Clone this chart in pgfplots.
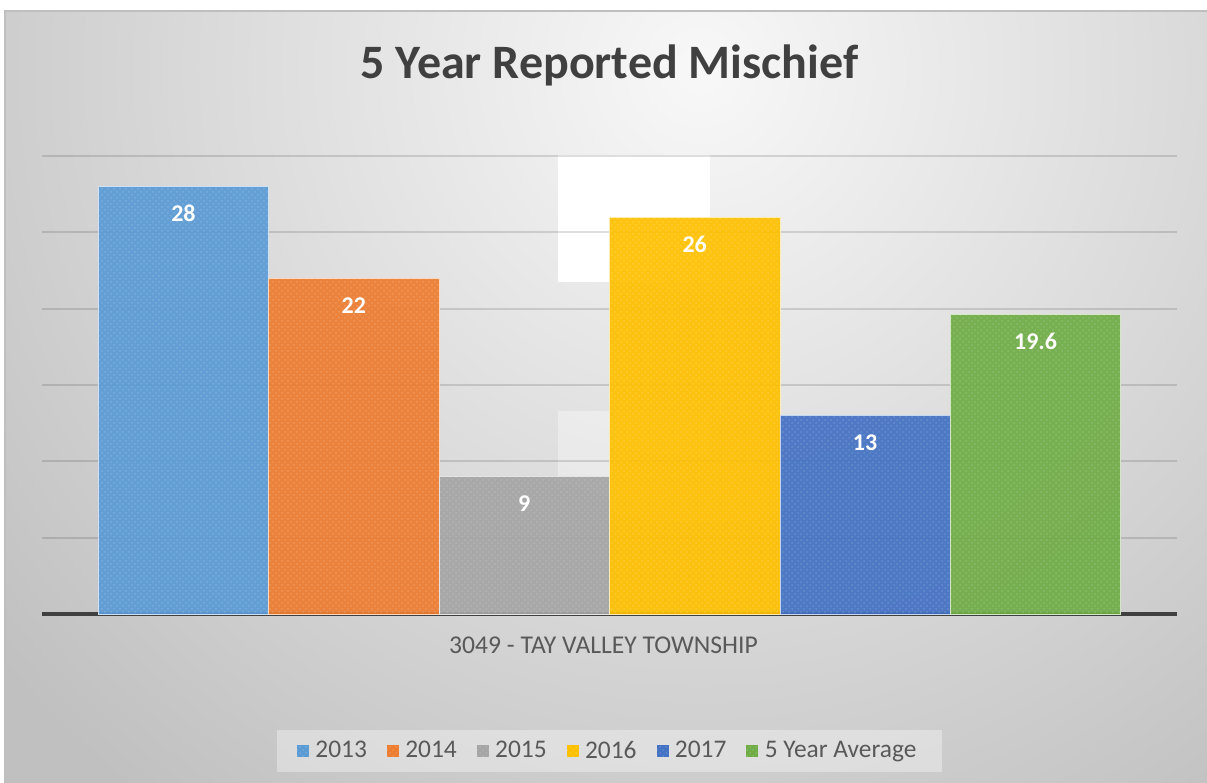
\documentclass[border=0pt]{standalone}
\usepackage{fontspec}
\setmainfont{Carlito}
\usepackage{pgfplots}
\pgfplotsset{compat=1.18}
\usetikzlibrary{patterns}
\definecolor{cA}{HTML}{5B9BD5}
\definecolor{cB}{HTML}{ED7D31}
\definecolor{cC}{HTML}{A5A5A5}
\definecolor{cD}{HTML}{FFC000}
\definecolor{cE}{HTML}{4472C4}
\definecolor{cF}{HTML}{70AD47}
\definecolor{tdark}{HTML}{404040}
\definecolor{tmid}{HTML}{595959}
\definecolor{bgin}{HTML}{F8F8F8}
\definecolor{bgout}{HTML}{C0C0C0}
\begin{document}
\begin{tikzpicture}[x=1pt,y=1pt]
\fill[white] (0,0) rectangle (603.5,391.5);
\useasboundingbox (0,0) rectangle (603.5,391.5);
\begin{scope}
\clip (2.5,0) rectangle (603.5,386);
\fill[bgout] (2.5,0) rectangle (603.5,386);
\shade[inner color=bgin, outer color=bgout] (350,356.5) circle (460pt);
\end{scope}
\draw[black!25, line width=0.6pt] (2.5,0) -- (2.5,386) -- (603.5,386);
% background artefacts
\fill[white] (279,250.5) rectangle (355,314);
\fill[white, opacity=0.35] (279,153) rectangle (355,186);
\begin{axis}[
  at={(21pt,84.5pt)}, anchor=south west, scale only axis,
  width=567.5pt, height=229pt,
  xmin=-0.83, xmax=5.83, ymin=0, ymax=30,
  axis lines*=left,
  y axis line style={draw=none},
  x axis line style={draw=tdark, line width=1.75pt},
  xtick=\empty,
  ytick={5,10,15,20,25,30}, yticklabels={},
  ytick style={draw=none},
  ymajorgrids,
  grid style={black, opacity=0.13, line width=0.9pt},
  ybar, bar width=1, bar shift=0pt,
  nodes near coords={\pgfmathprintnumber{\pgfplotspointmeta}},
  /pgf/number format/assume math mode=true,
  every node near coord/.append style={anchor=center, yshift=-13.5pt,
     font=\bfseries\fontsize{12}{14}\selectfont, text=white, fill opacity=1, text opacity=1},
  title={5 Year Reported Mischief},
  title style={at={(axis description cs:0.5,1)}, anchor=center, yshift=39.5pt,
     font=\bfseries\fontsize{24}{28}\selectfont, text=tdark},
  xlabel={3049 - TAY VALLEY TOWNSHIP},
  xlabel style={at={(axis description cs:0.5,0)}, anchor=center, yshift=-15.5pt, xshift=-3pt,
     font=\fontsize{12.8}{15}\selectfont, text=tmid},
  legend columns=6,
  legend image code/.code={\fill[#1, fill opacity=1] (0pt,-3pt) rectangle (6pt,3pt);},
  legend style={at={(axis description cs:0.5,0)}, anchor=center, yshift=-68.5pt,
     fill=white, fill opacity=0.35, draw opacity=0, text opacity=1,
     inner xsep=10pt, inner ysep=4pt,
     font=\fontsize{12.7}{15}\selectfont, text=tmid,
     nodes={inner ysep=1.5pt, inner xsep=3pt},
     /tikz/every even column/.append style={column sep=6.8pt}},
]
\addplot[fill=cA, draw=white!70!cA, fill opacity=0.93, bar shift=0pt,
  postaction={pattern=crosshatch dots, pattern color=white, fill opacity=0.15}] coordinates {(0,28)};
\addplot[fill=cB, draw=white!70!cB, fill opacity=0.93, bar shift=0pt,
  postaction={pattern=crosshatch dots, pattern color=white, fill opacity=0.15}] coordinates {(1,22)};
\addplot[fill=cC, draw=white!70!cC, fill opacity=0.93, bar shift=0pt,
  postaction={pattern=crosshatch dots, pattern color=white, fill opacity=0.15}] coordinates {(2,9)};
\addplot[fill=cD, draw=white!70!cD, fill opacity=0.93, bar shift=0pt,
  postaction={pattern=crosshatch dots, pattern color=white, fill opacity=0.15}] coordinates {(3,26)};
\addplot[fill=cE, draw=white!70!cE, fill opacity=0.93, bar shift=0pt,
  postaction={pattern=crosshatch dots, pattern color=white, fill opacity=0.15}] coordinates {(4,13)};
\addplot[fill=cF, draw=white!70!cF, fill opacity=0.93, bar shift=0pt,
  postaction={pattern=crosshatch dots, pattern color=white, fill opacity=0.15}] coordinates {(5,19.6)};
\legend{2013,2014,2015,2016,2017,5 Year Average}
\end{axis}
\end{tikzpicture}
\end{document}
